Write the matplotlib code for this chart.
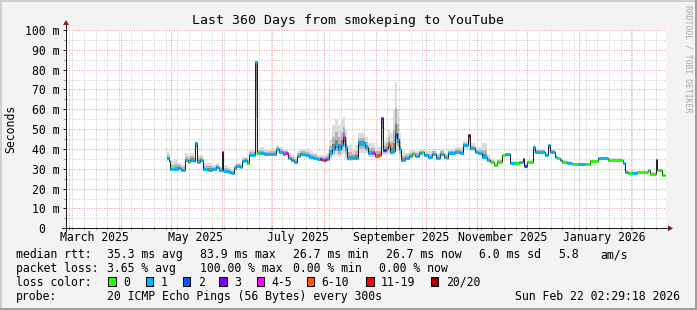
import datetime as dt
import numpy as np
import matplotlib
matplotlib.use("Agg")
import matplotlib.pyplot as plt
import matplotlib.dates as mdates
from matplotlib.patches import Rectangle, Polygon
from matplotlib.transforms import blended_transform_factory

plt.rcParams['font.family'] = ['DejaVu Sans Mono']

# smokeping graph, last 360 days to YouTube
start = dt.datetime(2025, 2, 27, 2, 29, 18)
end = dt.datetime(2026, 2, 22, 2, 29, 18)
data_end = 359.5  # days after start where the data stops

# days since start of the window
day = [60.6, 61.8, 62.4, 65.4, 67.2, 69.0, 71.4, 73.2, 74.4, 76.8,
       77.4, 78.6, 80.4, 82.2, 85.2, 87.6, 90.0, 91.8, 93.6, 94.2,
       97.2, 99.0, 100.8, 102.0, 104.4, 105.6, 107.4, 108.6, 109.8, 112.8,
       113.4, 114.6, 115.8, 118.8, 122.4, 126.0, 127.8, 130.2, 131.4, 133.2,
       135.0, 136.8, 138.6, 140.4, 143.4, 145.8, 148.2, 150.6, 152.4, 153.6,
       154.8, 156.0, 157.2, 157.8, 159.6, 161.4, 163.2, 165.0, 166.2, 167.4,
       168.6, 171.6, 173.4, 175.2, 179.4, 181.2, 183.6, 185.4, 187.8, 189.0,
       190.2, 192.0, 193.2, 194.4, 196.2, 197.4, 198.6, 199.8, 201.0, 203.4,
       205.8, 207.6, 209.4, 211.8, 213.6, 214.8, 217.2, 219.6, 222.0, 224.4,
       226.8, 228.0, 229.2, 233.4, 236.4, 238.2, 241.2, 242.4, 245.4, 247.2,
       249.6, 252.6, 254.4, 256.8, 258.6, 261.6, 263.4, 266.4, 269.4, 271.8,
       274.2, 274.8, 276.6, 280.2, 281.4, 287.4, 289.2, 290.4, 293.4, 294.6,
       296.4, 297.6, 300.6, 303.6, 307.2, 311.4, 314.4, 319.2, 325.2, 334.2,
       335.4, 337.2, 339.6, 342.6, 349.2, 350.4, 354.0, 354.6, 357.6]

# median rtt in ms
median = [35.3, 34.0, 29.8, 30.0, 30.5, 29.5, 34.4, 33.5, 34.5, 34.0,
          43.0, 33.5, 34.5, 30.0, 29.5, 30.0, 31.0, 29.5, 38.6, 29.0,
          28.5, 28.0, 30.5, 31.5, 31.0, 34.0, 34.6, 33.0, 37.0, 37.0,
          84.0, 37.8, 38.0, 37.3, 37.5, 39.8, 38.5, 37.5, 37.8, 35.5,
          34.5, 33.5, 36.5, 37.5, 37.0, 36.0, 35.5, 35.0, 34.8, 34.5,
          34.5, 34.8, 35.0, 37.8, 40.0, 42.0, 40.0, 42.0, 46.0, 41.0,
          35.3, 35.3, 35.5, 42.9, 41.0, 37.8, 37.8, 36.5, 37.0, 55.5,
          39.3, 40.0, 42.0, 38.6, 39.0, 47.5, 45.0, 40.0, 34.4, 35.5,
          36.5, 37.3, 36.5, 37.8, 38.3, 37.0, 36.0, 37.5, 35.5, 37.5,
          36.0, 35.6, 37.8, 38.6, 38.0, 42.0, 47.0, 40.4, 38.6, 37.8,
          36.1, 34.4, 33.6, 31.9, 33.5, 36.8, 37.3, 33.0, 33.0, 33.2,
          35.0, 31.2, 33.5, 41.0, 38.6, 37.0, 42.0, 38.6, 36.0, 35.3,
          34.4, 33.6, 33.0, 32.4, 32.4, 32.4, 34.0, 35.3, 34.6, 32.8,
          28.5, 28.0, 28.0, 28.5, 29.3, 27.6, 34.4, 29.3, 26.7]

# loss class index (0 = no loss ... 7 = 20/20)
loss = [1, 1, 1, 1, 1, 1, 1, 0, 1, 1,
        1, 1, 1, 1, 1, 1, 1, 1, 7, 1,
        1, 1, 1, 1, 1, 1, 1, 0, 1, 1,
        1, 0, 1, 1, 1, 1, 1, 1, 4, 1,
        1, 1, 1, 1, 1, 1, 1, 1, 3, 5,
        6, 4, 1, 1, 1, 1, 1, 1, 4, 1,
        1, 1, 1, 1, 1, 1, 4, 5, 5, 3,
        3, 1, 5, 1, 1, 2, 1, 1, 1, 1,
        1, 0, 1, 1, 0, 1, 1, 1, 1, 1,
        1, 0, 1, 1, 1, 1, 7, 1, 1, 1,
        1, 1, 0, 0, 0, 0, 1, 1, 0, 1,
        7, 2, 0, 1, 1, 1, 1, 1, 1, 0,
        1, 0, 1, 0, 1, 0, 0, 1, 0, 1,
        1, 0, 1, 0, 0, 0, 7, 0, 0]

# smoke: slowest / fastest ping of each sample, ms
smoke_hi = [39, 38, 34, 35, 33, 32, 38, 37, 38, 37,
            44, 37, 37, 33, 33, 32, 33, 31, 39, 32,
            31, 30, 32, 33, 33, 36, 36, 35, 40, 40,
            84.5, 40, 41, 40, 40, 42, 41, 40, 40, 38,
            37, 36, 39, 40, 40, 39, 38, 37, 37, 37,
            37, 38, 40, 45, 52, 55, 52, 55, 56, 50,
            42, 40, 42, 48, 46, 43, 43, 41, 41, 56,
            44, 46, 50, 48, 60, 74, 60, 48, 39, 38,
            39, 40, 39, 40, 40, 39, 39, 40, 38, 40,
            38, 38, 40, 41, 41, 44, 47.5, 43, 41, 41,
            43, 37, 35, 33, 35, 37.5, 38, 34, 34, 34,
            35.5, 33, 34.5, 42, 40, 38, 42.5, 40, 37, 36,
            35.5, 34.5, 34, 33, 33, 33, 34.5, 36, 35.2, 33.5,
            29.5, 29, 29, 29, 30, 28.5, 35, 30, 27.5]
smoke_lo = [34, 33, 29, 29, 29.5, 29, 33.5, 33, 33.5, 33,
            40, 33, 33.5, 29, 29, 29.5, 30, 29, 30, 28.5,
            28, 27.5, 30, 31, 30.5, 33, 33.5, 32.5, 36, 36,
            37, 37, 37, 36.5, 36.5, 38.5, 37.5, 36.5, 37, 34.5,
            33.5, 33, 35.5, 36.5, 36, 35, 34.5, 34, 34, 34,
            34, 34, 34, 35, 36, 37, 36, 37, 38, 35,
            34, 34.5, 34.5, 38, 38, 36, 36, 35.5, 36, 37,
            37, 37, 38, 37, 37, 40, 39, 36, 33.5, 34.5,
            35.5, 36.5, 35.5, 37, 37.5, 36, 35, 36.5, 35, 36.5,
            35, 35, 37, 37.5, 37, 40, 41, 39, 37.5, 37,
            35, 33.5, 33, 31.5, 33, 36, 36.5, 32.5, 32.5, 32.5,
            32, 31, 33, 38, 38, 36.5, 39, 38, 35.5, 35,
            34, 33, 32.5, 32, 32, 32, 33.5, 35, 34, 32.5,
            28, 27.5, 27.5, 28, 29, 27, 28, 29, 26.5]

loss_labels = ["0", "1", "2", "3", "4-5", "6-10", "11-19", "20/20"]
loss_colors = ["#26ff00", "#00b8ff", "#0059ff", "#7e00ff",
               "#ff00ff", "#ff5500", "#ff0000", "#a10000"]

month_labels = ["March 2025", "May 2025", "July 2025",
                "September 2025", "November 2025", "January 2026"]
month_label_dates = [dt.datetime(2025, 3, 16), dt.datetime(2025, 5, 16),
                     dt.datetime(2025, 7, 16), dt.datetime(2025, 9, 16),
                     dt.datetime(2025, 11, 16), dt.datetime(2026, 1, 16)]

# ---------------------------------------------------------------------------
W, H = 697, 310
PX = 0.72  # one pixel in points at dpi 100
fig = plt.figure(figsize=(W / 100, H / 100), dpi=100, facecolor="#f3f3f3")

x0, x1, ytop, ybot = 66, 666, 30, 228.3
ax = fig.add_axes([x0 / W, 1 - ybot / H, (x1 - x0) / W, (ybot - ytop) / H])
ax.set_facecolor("white")
for s in ax.spines.values():
    s.set_visible(False)

t = mdates.date2num([start + dt.timedelta(days=d) for d in day + [data_end]])
med = np.array(median + [median[-1]])
hi = np.array(smoke_hi + [smoke_hi[-1]])
lo = np.array(smoke_lo + [smoke_lo[-1]])

# smoke, light to dark towards the median
ax.fill_between(t, lo, hi, step="post", color="#dcdcdc", lw=0)
ax.fill_between(t, lo + (med - lo) * 0.4, med + (hi - med) * 0.5,
                step="post", color="#b4b4b4", lw=0)
ax.fill_between(t, med - (med - lo) * 0.3, med + (hi - med) * 0.2,
                step="post", color="#808080", lw=0)

# median line, coloured by loss
ax.step(t, med, where="post", color="#202020", lw=PX)
ax.hlines(median, t[:-1], t[1:], colors=[loss_colors[c] for c in loss],
          linewidth=3 * PX)

ax.set_xlim(mdates.date2num(start), mdates.date2num(end))
ax.set_ylim(0, 100)

ax.xaxis.set_major_locator(mdates.MonthLocator())
ax.xaxis.set_minor_locator(mdates.WeekdayLocator(byweekday=mdates.MO))
ax.tick_params(axis="x", which="both", labelbottom=False, direction="inout")
ax.tick_params(axis="x", which="major", length=4 * PX, width=PX, color="#e08080")
ax.tick_params(axis="x", which="minor", length=4 * PX, width=PX, color="#b8b8b8")

ax.set_yticks(np.arange(0, 101, 10))
ax.set_yticks(np.arange(5, 100, 10), minor=True)
ax.set_yticklabels(["0  "] + [f"{v} m" for v in range(10, 101, 10)],
                   fontsize=8.3)
ax.tick_params(axis="y", which="major", length=3 * PX, width=PX,
               color="#202020", pad=2.4)
ax.tick_params(axis="y", which="minor", length=2 * PX, width=PX, color="#808080")

# dotted rrdtool style grid
ax.grid(which="major", color="#ec9898", linestyle=(0, (1, 1.5)), linewidth=PX)
ax.grid(which="minor", color="#c8c8c8", linestyle=(0, (1, 1.5)), linewidth=PX)
ax.set_axisbelow(True)

# overlay in pixel coordinates for frame, axes, legend
ov = fig.add_axes([0, 0, 1, 1])
ov.set_xlim(0, W)
ov.set_ylim(H, 0)
ov.axis("off")
ov.patch.set_alpha(0)

ov.plot([0, W], [1, 1], color="#cfcfcf", lw=2 * PX)
ov.plot([1, 1], [0, H], color="#cfcfcf", lw=2 * PX)
ov.plot([0, W], [H - 1, H - 1], color="#9e9e9e", lw=2 * PX)
ov.plot([W - 1, W - 1], [0, H], color="#9e9e9e", lw=2 * PX)

ov.plot([62, 668], [ybot, ybot], color="#202020", lw=PX)
ov.plot([x0, x0], [ybot + 3, 25], color="#202020", lw=PX)
ov.add_patch(Polygon([(668, ybot - 3), (668, ybot + 3), (673, ybot)],
                     closed=True, color="#8b1a1a", lw=0))
ov.add_patch(Polygon([(x0 - 3, 25), (x0 + 3, 25), (x0, 20)],
                     closed=True, color="#8b1a1a", lw=0))

ov.text(348, 24, "Last 360 Days from smokeping to YouTube", ha="center",
        va="baseline", fontsize=9.5)
ov.text(11, 129, "Seconds", rotation=90, ha="center", va="center", fontsize=8.3)
ov.text(688, 59, "RRDTOOL / TOBI OETIKER", rotation=270, ha="center",
        va="center", fontsize=5.9, color="#a8a8a8")

tr = blended_transform_factory(ax.transData, ov.transData)
for d, lab in zip(month_label_dates, month_labels):
    ax.text(mdates.date2num(d), 241, lab, transform=tr, ha="center",
            va="baseline", fontsize=8.3)

fs = 8.3
rows = [
    (258.3, [(16, "median rtt:"), (107, "35.3 ms avg"), (200, "83.9 ms max"),
             (293, "26.7 ms min"), (386, "26.7 ms now"), (479, "6.0 ms sd"),
             (558, "5.8"), (600, "am/s")]),
    (272.0, [(16, "packet loss:"), (107, "3.65 % avg"), (200, "100.00 % max"),
             (293, "0.00 % min"), (379, "0.00 % now")]),
    (285.8, [(16, "loss color:")]),
    (299.7, [(16, "probe:"), (107, "20 ICMP Echo Pings (56 Bytes) every 300s")]),
]
for y, items in rows:
    for x, s in items:
        ov.text(x, y, s, ha="left", va="baseline", fontsize=fs)
ov.text(680, 299.7, "Sun Feb 22 02:29:18 2026", ha="right", va="baseline",
        fontsize=fs)

box_x = [108, 145.7, 182.7, 219.3, 256.7, 306.7, 366, 430.7]
for bx, col, lab in zip(box_x, loss_colors, loss_labels):
    ov.add_patch(Rectangle((bx, 276.5), 7.5, 9.5, facecolor=col,
                           edgecolor="black", lw=PX))
    ov.text(bx + 15, 285.8, lab, ha="left", va="baseline", fontsize=fs)

fig.savefig("out.png", dpi=100, facecolor=fig.get_facecolor())
